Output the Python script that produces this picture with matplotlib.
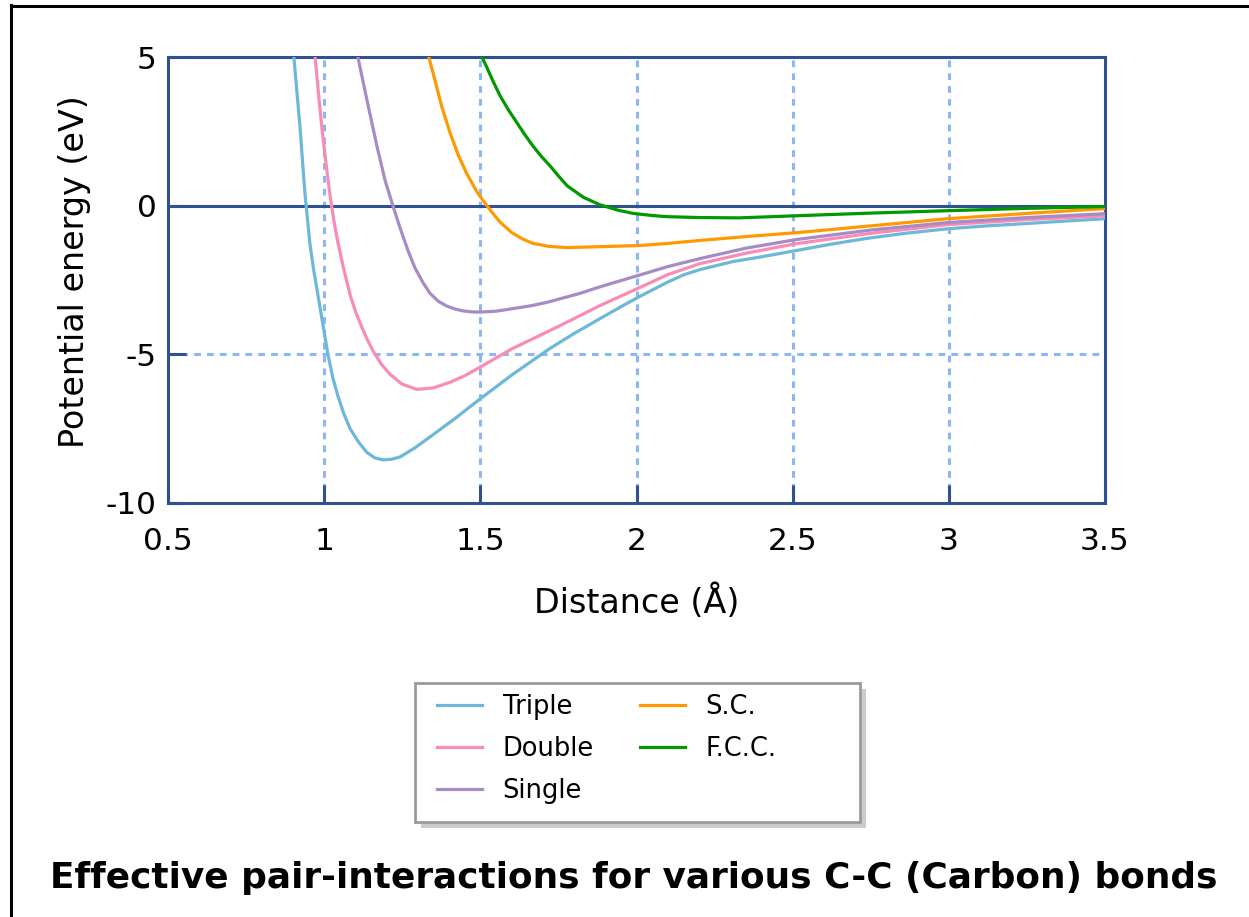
import matplotlib
matplotlib.use("Agg")
import matplotlib.pyplot as plt
from matplotlib.patches import Rectangle
from matplotlib.lines import Line2D

# values (distance in Angstrom, energy in eV)
triple_x = [0.903, 0.913, 0.923, 0.931, 0.939, 0.947, 0.955, 0.967, 0.980, 0.996, 1.012, 1.028,
            1.044, 1.063, 1.083, 1.11, 1.137, 1.162, 1.188, 1.215, 1.243, 1.29, 1.349, 1.42,
            1.493, 1.60, 1.723, 1.80, 1.883, 1.95, 2.011, 2.098, 2.15, 2.203, 2.309, 2.40,
            2.511, 2.62, 2.738, 2.86, 2.994, 3.12, 3.25, 3.37, 3.5]
triple_y = [5.0, 3.8, 2.6, 1.45, 0.35, -0.5, -1.34, -2.2, -3.0, -4.0, -5.0, -5.8,
            -6.4, -7.0, -7.5, -7.95, -8.3, -8.48, -8.55, -8.53, -8.45, -8.15, -7.7, -7.15,
            -6.55, -5.7, -4.8, -4.3, -3.8, -3.4, -3.05, -2.58, -2.33, -2.15, -1.88, -1.72,
            -1.51, -1.3, -1.1, -0.93, -0.78, -0.68, -0.6, -0.52, -0.44]

double_x = [0.971, 0.982, 0.993, 1.006, 1.019, 1.031, 1.044, 1.063, 1.083, 1.10, 1.121, 1.138,
            1.156, 1.183, 1.211, 1.249, 1.297, 1.349, 1.403, 1.45, 1.493, 1.60, 1.723, 1.80,
            1.883, 2.011, 2.10, 2.203, 2.35, 2.511, 2.75, 2.994, 3.25, 3.5]
double_y = [5.0, 3.75, 2.58, 1.4, 0.33, -0.5, -1.24, -2.15, -3.0, -3.55, -4.1, -4.5,
            -4.88, -5.33, -5.67, -6.0, -6.18, -6.13, -5.94, -5.72, -5.47, -4.82, -4.2, -3.8,
            -3.36, -2.75, -2.32, -1.95, -1.6, -1.28, -0.93, -0.64, -0.47, -0.34]

single_x = [1.108, 1.137, 1.169, 1.195, 1.220, 1.243, 1.268, 1.291, 1.317, 1.339, 1.366,
            1.393, 1.42, 1.445, 1.47, 1.499, 1.55, 1.605, 1.66, 1.714, 1.819, 1.883, 1.95, 2.011,
            2.10, 2.203, 2.35, 2.511, 2.75, 2.994, 3.25, 3.5]
single_y = [5.0, 3.55, 2.0, 0.85, 0.0, -0.75, -1.5, -2.1, -2.6, -2.95, -3.22,
            -3.38, -3.48, -3.54, -3.57, -3.58, -3.55, -3.46, -3.37, -3.25, -2.95, -2.73, -2.52, -2.33,
            -2.05, -1.78, -1.43, -1.14, -0.82, -0.57, -0.4, -0.27]

sc_x = [1.335, 1.349, 1.376, 1.403, 1.43, 1.457, 1.49, 1.521, 1.543, 1.563, 1.60, 1.635,
        1.669, 1.72, 1.778, 1.883, 2.011, 2.10, 2.203, 2.35, 2.511, 2.75, 2.994, 3.25, 3.5]
sc_y = [5.0, 4.45, 3.35, 2.45, 1.68, 1.07, 0.45, 0.0, -0.3, -0.55, -0.9, -1.12,
        -1.27, -1.37, -1.41, -1.38, -1.34, -1.27, -1.17, -1.04, -0.91, -0.68, -0.44, -0.26, -0.1]

fcc_x = [1.505, 1.521, 1.54, 1.563, 1.59, 1.617, 1.643, 1.669, 1.696, 1.723, 1.75, 1.778,
         1.83, 1.883, 1.94, 1.989, 2.05, 2.098, 2.203, 2.33, 2.511, 2.75, 2.994, 3.25, 3.5]
fcc_y = [5.0, 4.65, 4.2, 3.7, 3.22, 2.79, 2.38, 2.0, 1.65, 1.34, 1.0, 0.67,
         0.28, 0.03, -0.15, -0.26, -0.33, -0.37, -0.4, -0.41, -0.34, -0.25, -0.17, -0.09, -0.03]

names = ["Triple", "Double", "Single", "S.C.", "F.C.C."]
colors = ["#6db8d8", "#f98cb6", "#a68bc5", "#ff9900", "#009900"]

xticks = [0.5, 1, 1.5, 2, 2.5, 3, 3.5]
xticklabels = ["0.5", "1", "1.5", "2", "2.5", "3", "3.5"]
yticks = [-10, -5, 0, 5]

W, H = 1249, 917
navy = "#30508f"
gridblue = "#8cb6f5"

plt.rcParams['font.family'] = ['DejaVu Sans']
plt.rcParams['axes.unicode_minus'] = False
fig = plt.figure(figsize=(W / 100, H / 100), dpi=100)
ax = fig.add_axes([168 / W, 1 - 503 / H, (1105 - 168) / W, (503 - 57) / H])

series = [(triple_x, triple_y), (double_x, double_y), (single_x, single_y), (sc_x, sc_y), (fcc_x, fcc_y)]
for (xs, ys), name, c in zip(series, names, colors):
    ax.plot(xs, ys, color=c, lw=2.3, label=name, zorder=4, solid_joinstyle="round")

ax.set_xlim(0.5, 3.5)
ax.set_ylim(-10, 5)

# dashed grid
for gx in [1, 1.5, 2, 2.5, 3]:
    ax.axvline(gx, color=gridblue, lw=2.2, ls=(0, (2.2, 2.0)), zorder=1)
ax.axhline(-5, color=gridblue, lw=2.2, ls=(0, (2.2, 2.0)), zorder=1)
ax.axhline(0, color=navy, lw=2.2, zorder=3)

for s in ax.spines.values():
    s.set_color(navy)
    s.set_linewidth(2.2)

ax.set_xticks(xticks)
ax.set_xticklabels(xticklabels)
ax.set_yticks(yticks)
ax.tick_params(axis="both", direction="in", length=13, width=2.2, color=navy,
               labelsize=22.5, labelcolor="black")
ax.tick_params(axis="x", pad=17)
ax.tick_params(axis="y", pad=8)

ax.set_xlabel("Distance (Å)", fontsize=24, labelpad=21)
ax.set_ylabel("Potential energy (eV)", fontsize=24, labelpad=11)
ax.yaxis.label.set_y(0.518)

# legend box with shadow
fig.patches.append(Rectangle((421 / W, 1 - 828 / H), (860 - 415) / W, (822 - 683) / H,
                             transform=fig.transFigure, facecolor="#cccccc", edgecolor="none", zorder=1))
fig.patches.append(Rectangle((415 / W, 1 - 822 / H), (860 - 415) / W, (822 - 683) / H,
                             transform=fig.transFigure, facecolor="white", edgecolor="#9a9a9a",
                             lw=2.0, zorder=2))
handles, labels = ax.get_legend_handles_labels()
leg = fig.legend(handles, labels, ncol=2, loc="center left", bbox_to_anchor=(437 / W, 1 - 749 / H),
                 frameon=False, fontsize=18.5, borderpad=0, borderaxespad=0,
                 handlelength=1.75, handletextpad=0.8, columnspacing=1.8, labelspacing=0.62)
leg.set_zorder(5)

fig.text(634 / W, 1 - 878 / H, "Effective pair-interactions for various C-C (Carbon) bonds",
         fontsize=25.8, fontweight="bold", ha="center", va="center")

# outer border of the picture
fig.lines.append(Line2D([11 / W, 11 / W], [0, 1 - 5 / H], transform=fig.transFigure, color="black", lw=2.2))
fig.lines.append(Line2D([11 / W, 1], [1 - 5.5 / H, 1 - 5.5 / H], transform=fig.transFigure, color="black", lw=2.2))

fig.savefig("out.png", dpi=100)
